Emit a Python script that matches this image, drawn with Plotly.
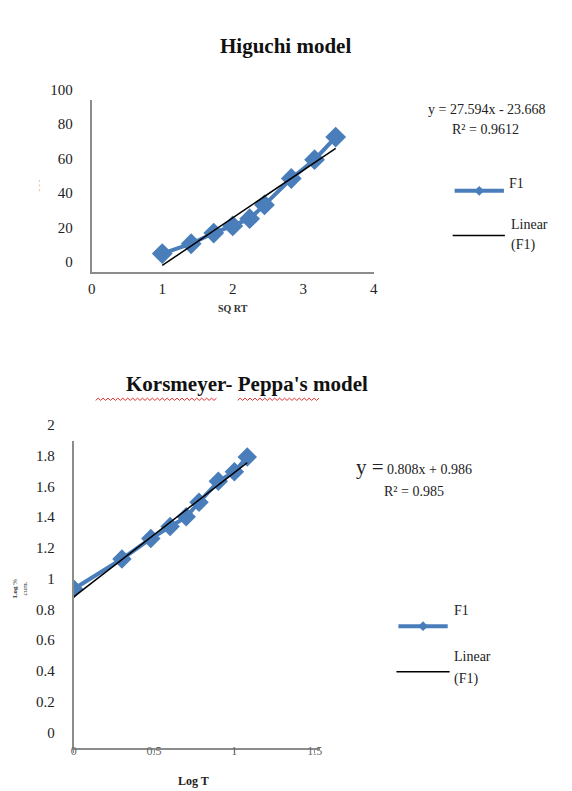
import plotly.graph_objects as go

W, H = 572, 791

# ---------------- data ----------------
higuchi_x = [1.0, 1.41, 1.73, 2.0, 2.24, 2.45, 2.83, 3.16, 3.46]
higuchi_y = [10.8, 16.5, 22.7, 26.8, 31.0, 39.0, 54.3, 65.2, 78.3]
higuchi_slope, higuchi_intercept = 27.594, -23.668
higuchi_eq = "y = 27.594x - 23.668"
higuchi_r2 = "R² = 0.9612"

kp_x = [0.0, 0.30, 0.48, 0.60, 0.70, 0.78, 0.90, 1.0, 1.08]
kp_y = [1.037, 1.232, 1.365, 1.443, 1.506, 1.601, 1.737, 1.800, 1.895]
kp_slope, kp_intercept = 0.808, 0.986
kp_eq_rest = " 0.808x + 0.986"
kp_r2 = "R² = 0.985"

top_xticks = [0, 1, 2, 3, 4]
top_yticks = [0, 20, 40, 60, 80, 100]
bot_xticks = [0, 0.5, 1, 1.5]
bot_xtext = ["0", "0.5", "1", "1.5"]
bot_yticks = [0, 0.2, 0.4, 0.6, 0.8, 1.0, 1.2, 1.4, 1.6, 1.8, 2.0]
bot_ytext = ["0", "0.2", "0.4", "0.6", "0.8", "1", "1.2", "1.4", "1.6", "1.8", "2"]

BLUE = "#4A7EBB"
SERIF = "Liberation Serif, Times New Roman, serif"
AXIS = "#8C8C8C"


def px(x):
    return x / W


def py(y):
    return 1 - y / H


fig = go.Figure()

# top chart
fig.add_trace(go.Scatter(x=higuchi_x, y=higuchi_y, mode="lines+markers",
                         line=dict(color=BLUE, width=4),
                         marker=dict(symbol="diamond", size=16, color=BLUE),
                         xaxis="x", yaxis="y", showlegend=False))
hx = [min(higuchi_x), max(higuchi_x)]
fig.add_trace(go.Scatter(x=hx, y=[higuchi_slope * v + higuchi_intercept for v in hx],
                         mode="lines", line=dict(color="black", width=1.5),
                         xaxis="x", yaxis="y", showlegend=False))

# bottom chart
fig.add_trace(go.Scatter(x=kp_x, y=kp_y, mode="lines+markers",
                         line=dict(color=BLUE, width=4),
                         marker=dict(symbol="diamond", size=15, color=BLUE),
                         xaxis="x2", yaxis="y2", showlegend=False))
kx = [min(kp_x), max(kp_x)]
fig.add_trace(go.Scatter(x=kx, y=[kp_slope * v + kp_intercept for v in kx],
                         mode="lines", line=dict(color="black", width=1.5),
                         xaxis="x2", yaxis="y2", showlegend=False))

tickfont = dict(family=SERIF, size=15, color="#222")

fig.update_layout(
    width=W, height=H, margin=dict(l=0, r=0, t=0, b=0),
    paper_bgcolor="white", plot_bgcolor="white",
    xaxis=dict(domain=[px(89), px(375)], range=[0, 4], tickvals=top_xticks,
               showline=True, linecolor=AXIS, linewidth=2, showgrid=False,
               zeroline=False, ticks="", tickfont=tickfont, anchor="y",
               ticklabelstandoff=2),
    yaxis=dict(domain=[py(256), py(78)], range=[0, 100], tickvals=top_yticks,
               showline=True, linecolor=AXIS, linewidth=2, showgrid=False,
               zeroline=False, ticks="", tickfont=tickfont, anchor="x",
               ticklabelstandoff=14, ticklabelshift=-10),
    xaxis2=dict(domain=[px(70.7), px(320)], range=[0, 1.53], tickvals=bot_xticks,
                ticktext=bot_xtext,
                showline=True, linecolor=AXIS, linewidth=2, showgrid=False,
                zeroline=False, ticks="outside", ticklen=3, tickcolor=AXIS,
                tickfont=dict(family=SERIF, size=12, color="#666"), anchor="y2",
                ticklabelstandoff=-13),
    yaxis2=dict(domain=[py(747), py(430)], range=[0, 2], tickvals=bot_yticks,
                ticktext=bot_ytext,
                showline=True, linecolor=AXIS, linewidth=2, showgrid=False,
                zeroline=False, ticks="", tickfont=tickfont, anchor="x2",
                ticklabelstandoff=14, ticklabelshift=-16),
)

ann = []


def text(x, y, t, size=14, xanchor="center", color="#222", angle=0):
    ann.append(dict(x=px(x), y=py(y), xref="paper", yref="paper", text=t,
                    showarrow=False, xanchor=xanchor, yanchor="middle",
                    textangle=angle,
                    font=dict(family=SERIF, size=size, color=color)))


# titles
text(285, 23, "<b>Higuchi model</b>", size=21, color="#111")
text(246, 371, "<b>Korsmeyer- Peppa's model</b>", size=21, color="#111")

# axis titles
text(232, 293, "<b>SQ RT</b>", size=10, color="#333")
text(192, 781, "<b>Log T</b>", size=12, color="#222")
text(36, 166, "- - -", size=8, color="#D8A070", angle=-90)
text(16, 582, "<b>Log</b> %<br>cum.", size=7, color="#333", angle=-90)

# equations
text(490, 88, higuchi_eq, size=14)
text(488, 109, higuchi_r2, size=14)
text(416, 457, "<span style='font-size:21px'>y =</span>" + kp_eq_rest, size=14)
text(416, 482, kp_r2, size=14)

# legends
text(510, 164, "F1", size=14, xanchor="left")
text(512, 207, "Linear", size=14, xanchor="left")
text(512, 228, "(F1)", size=14, xanchor="left")
text(454, 605, "F1", size=14, xanchor="left")
text(454, 652, "Linear", size=14, xanchor="left")
text(454, 675, "(F1)", size=14, xanchor="left")

shapes = []


def hline(x0, x1, y, color, width):
    shapes.append(dict(type="line", xref="paper", yref="paper",
                       x0=px(x0), x1=px(x1), y0=py(y), y1=py(y),
                       line=dict(color=color, width=width)))


def diamond(cx, cy, r):
    path = "M {} {} L {} {} L {} {} L {} {} Z".format(
        px(cx - r), py(cy), px(cx), py(cy - r), px(cx + r), py(cy), px(cx), py(cy + r))
    shapes.append(dict(type="path", xref="paper", yref="paper", path=path,
                       fillcolor=BLUE, line=dict(color=BLUE, width=0)))


hline(457, 507, 172, BLUE, 4)
diamond(482, 172, 5)
hline(455, 508, 218, "black", 1.5)
hline(400, 450, 621, BLUE, 4)
diamond(425, 621, 5)
hline(398, 452, 668, "black", 1.5)


def squiggle(x0, x1, y):
    pts = []
    x = x0
    i = 0
    while x <= x1:
        yy = y + (1.2 if i % 2 == 0 else -1.2)
        pts.append((x, yy))
        x += 2.5
        i += 1
    path = "M " + " L ".join("{:.5f} {:.5f}".format(px(a), py(b)) for a, b in pts)
    shapes.append(dict(type="path", xref="paper", yref="paper", path=path,
                       line=dict(color="#E03030", width=1)))


squiggle(93, 217, 387)
squiggle(237, 320, 387)

fig.update_layout(annotations=ann, shapes=shapes)
fig.write_html("out.html")
